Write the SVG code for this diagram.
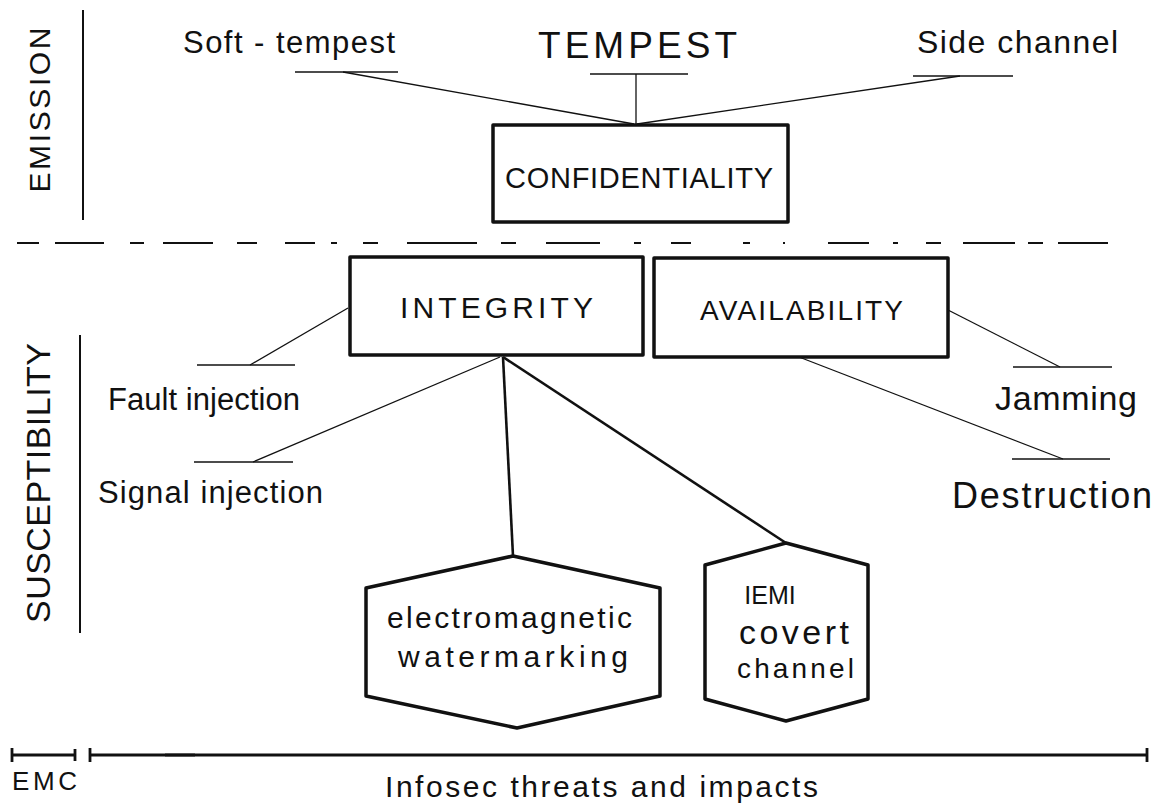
<svg xmlns="http://www.w3.org/2000/svg" width="1160" height="808" viewBox="0 0 1160 808">
<style>
text{font-family:"Liberation Sans",Arial,sans-serif;fill:#111;}
.box{fill:none;stroke:#111;stroke-width:3.5;stroke-linejoin:round;}
.thin{fill:none;stroke:#111;stroke-width:1.3;}
.thick{fill:none;stroke:#111;stroke-width:2.6;}
.ul{fill:none;stroke:#111;stroke-width:1.6;}
.sep{fill:none;stroke:#111;stroke-width:2;}
.axis{fill:none;stroke:#111;stroke-width:2.8;}
</style>
<rect width="1160" height="808" fill="#fff"/>

<g id="regions">
  <line class="sep" x1="83" y1="10" x2="83" y2="220"/>
  <text x="50" y="110" font-size="30" text-anchor="middle" textLength="165" transform="rotate(-90 50 110)">EMISSION</text>
  <line class="sep" x1="80" y1="335" x2="80" y2="633"/>
  <text x="50" y="483" font-size="34" text-anchor="middle" textLength="280" transform="rotate(-90 50 483)">SUSCEPTIBILITY</text>
  <path class="sep" stroke-width="2.4" d="M17,243H39M55,243H104M130,243H144M163,243H213M237,243H257M285,243H315M331,243H337M363,243H378M407,243H477M501,243H516M546,243H600M634,243H641M671,243H691M743,243H750M783,243H785M828,243H869M893,243H898M926,243H941M963,243H1015M1028,243H1043M1058,243H1108"/>
</g>

<g id="connectors">
  <line class="thin" x1="343" y1="72" x2="634" y2="124"/>
  <line class="thin" x1="636" y1="74" x2="636" y2="124"/>
  <line class="thin" x1="960" y1="76" x2="637" y2="124"/>
  <line class="thin" x1="348" y1="308" x2="250" y2="365"/>
  <line class="thin" x1="253" y1="462" x2="500" y2="357"/>
  <line class="thin" x1="948" y1="310" x2="1060" y2="367"/>
  <line class="thin" x1="799" y1="357" x2="1063" y2="459"/>
  <line class="thick" x1="503" y1="357" x2="513" y2="556"/>
  <line class="thick" x1="503" y1="357" x2="786" y2="543"/>
</g>

<g id="soft-tempest">
  <text x="183" y="53" font-size="31" textLength="212">Soft - tempest</text>
  <line class="ul" x1="295" y1="72" x2="398" y2="72"/>
</g>
<g id="tempest">
  <text x="538" y="58" font-size="37" textLength="199">TEMPEST</text>
  <line class="ul" x1="590" y1="74" x2="688" y2="74"/>
</g>
<g id="side-channel">
  <text x="917" y="53" font-size="32" textLength="201">Side channel</text>
  <line class="ul" x1="913" y1="76" x2="1013" y2="76"/>
</g>

<g id="confidentiality">
  <rect class="box" x="493" y="125" width="295" height="97"/>
  <text x="505" y="188" font-size="29" textLength="268">CONFIDENTIALITY</text>
</g>
<g id="integrity">
  <rect class="box" x="350" y="257" width="293" height="98"/>
  <text x="400" y="318" font-size="30" textLength="193">INTEGRITY</text>
</g>
<g id="availability">
  <rect class="box" x="654" y="258" width="294" height="99"/>
  <text x="700" y="320" font-size="28" textLength="203">AVAILABILITY</text>
</g>

<g id="fault-injection">
  <line class="ul" x1="197" y1="365" x2="295" y2="365"/>
  <text x="108" y="410" font-size="31" textLength="192">Fault injection</text>
</g>
<g id="signal-injection">
  <line class="ul" x1="194" y1="462" x2="293" y2="462"/>
  <text x="98" y="503" font-size="31" textLength="225">Signal injection</text>
</g>
<g id="jamming">
  <line class="ul" x1="1013" y1="367" x2="1112" y2="367"/>
  <text x="995" y="410" font-size="34" textLength="142">Jamming</text>
</g>
<g id="destruction">
  <line class="ul" x1="1012" y1="459" x2="1110" y2="459"/>
  <text x="952" y="508" font-size="36" textLength="200">Destruction</text>
</g>

<g id="em-watermarking">
  <path class="box" d="M513,556 L660,588 L660,696 L517,728 L366,696 L366,588 Z"/>
  <text x="387" y="628" font-size="30" textLength="245">electromagnetic</text>
  <text x="398" y="667" font-size="30" textLength="230">watermarking</text>
</g>
<g id="iemi-covert-channel">
  <path class="box" d="M786,543 L868,565 L868,699 L786,721 L705,699 L705,565 Z"/>
  <text x="770" y="604" font-size="25" text-anchor="middle">IEMI</text>
  <text x="739" y="644" font-size="34" textLength="110">covert</text>
  <text x="737" y="678" font-size="28" textLength="117">channel</text>
</g>

<g id="axis">
  <line class="axis" stroke-width="2" x1="12" y1="755" x2="75" y2="755"/>
  <line class="axis" stroke-width="2" x1="12" y1="748" x2="12" y2="762"/>
  <line class="axis" stroke-width="2" x1="75" y1="749" x2="75" y2="761"/>
  <line class="axis" x1="90" y1="755" x2="1147" y2="755"/>
  <line class="axis" stroke-width="4.5" x1="165" y1="755" x2="195" y2="755"/>
  <line class="axis" stroke-width="2" x1="90" y1="748" x2="90" y2="762"/>
  <line class="axis" stroke-width="2" x1="1147" y1="748" x2="1147" y2="762"/>
  <text x="12" y="790" font-size="26" textLength="65">EMC</text>
  <text x="385" y="797" font-size="30" textLength="433">Infosec threats and impacts</text>
</g>
</svg>
